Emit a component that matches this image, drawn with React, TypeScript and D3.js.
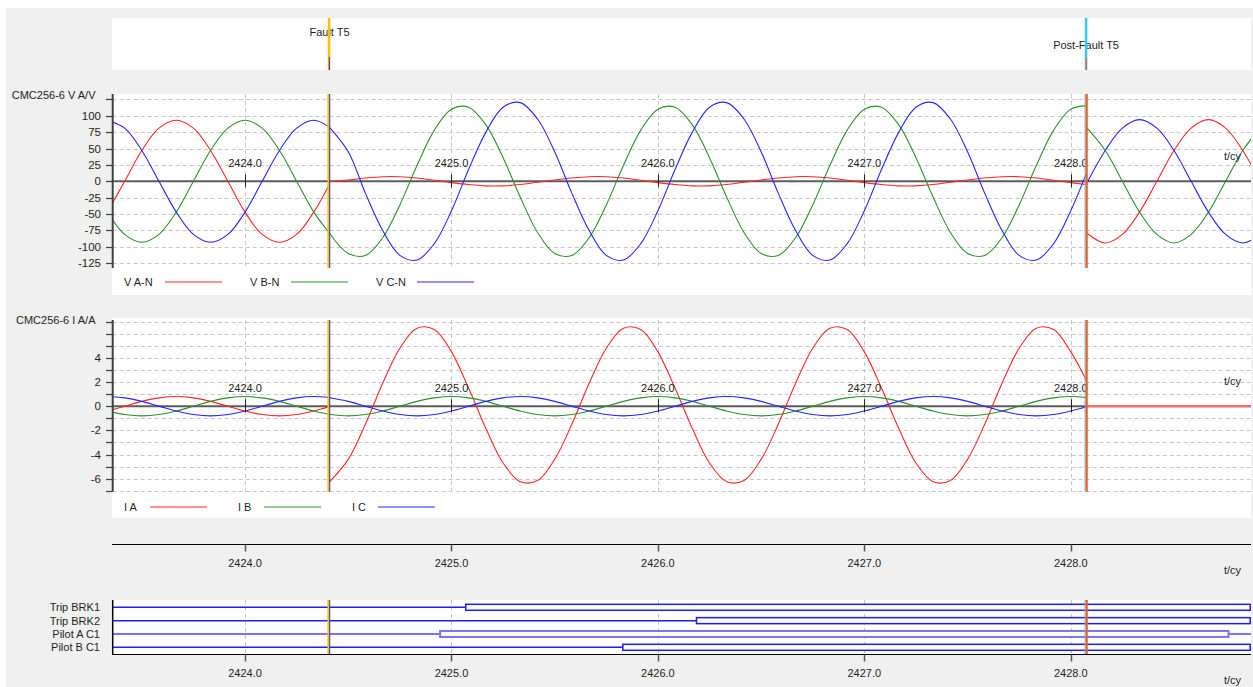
import * as d3 from 'd3';

const W = 1253;
const H = 687;
const FONT = '"Liberation Sans", Arial, sans-serif';
const INK = '#1e1e1e';

// time axis (cycles)
const CYCLE_TICKS = [2424, 2425, 2426, 2427, 2428];
const T_VIEW = [2423.359, 2428.873];
const FAULT_T = 2424.407;
const POST_T0 = 2428.074;

// y axis ticks
const V_GRID = [125, 100, 75, 50, 25, 0, -25, -50, -75, -100, -125];
const V_LABELS = [100, 75, 50, 25, 0, -25, -50, -75, -100, -125];
const I_GRID = [7, 6, 5, 4, 3, 2, 1, 0, -1, -2, -3, -4, -5, -6, -7];
const I_LABELS = [4, 2, 0, -2, -4, -6];

// ---- pre-fault samples ----
const PRE_T = [2423.333, 2423.417, 2423.5, 2423.583, 2423.667, 2423.75, 2423.833, 2423.917, 2424.0, 2424.083, 2424.167, 2424.25, 2424.333, 2424.407];
const PRE_VA = [-47, 0, 47, 81, 93, 81, 47, 0, -47, -81, -93, -81, -47, -6];
const PRE_VB = [-47, -81, -93, -81, -47, 0, 47, 81, 93, 81, 47, 0, -47, -78];
const PRE_VC = [93, 81, 47, 0, -47, -81, -93, -81, -47, 0, 47, 81, 93, 83];
const PRE_IA = [-0.4, 0, 0.4, 0.69, 0.8, 0.69, 0.4, 0, -0.4, -0.69, -0.8, -0.69, -0.4, -0.05];
const PRE_IB = [-0.4, -0.69, -0.8, -0.69, -0.4, 0, 0.4, 0.69, 0.8, 0.69, 0.4, 0, -0.4, -0.67];
const PRE_IC = [0.8, 0.69, 0.4, 0, -0.4, -0.69, -0.8, -0.69, -0.4, 0, 0.4, 0.69, 0.8, 0.72];

// ---- fault samples ----
const FLT_T = [
  2424.407, 2424.5, 2424.583, 2424.667, 2424.75, 2424.833, 2424.917,
  2425.0, 2425.083, 2425.167, 2425.25, 2425.333, 2425.417, 2425.5, 2425.583, 2425.667, 2425.75, 2425.833, 2425.917,
  2426.0, 2426.083, 2426.167, 2426.25, 2426.333, 2426.417, 2426.5, 2426.583, 2426.667, 2426.75, 2426.833, 2426.917,
  2427.0, 2427.083, 2427.167, 2427.25, 2427.333, 2427.417, 2427.5, 2427.583, 2427.667, 2427.75, 2427.833, 2427.917,
  2428.0, 2428.074,
];
const FLT_VA = [
  0, 2, 5, 7, 7, 5, 1.5,
  -2, -5, -7, -7, -5, -1.5, 2, 5, 7, 7, 5, 1.5,
  -2, -5, -7, -7, -5, -1.5, 2, 5, 7, 7, 5, 1.5,
  -2, -5, -7, -7, -5, -1.5, 2, 5, 7, 7, 5, 1.5,
  -2, -5,
];
const FLT_VB = [
  -78, -110, -113, -86, -36, 24, 78,
  110, 113, 86, 36, -24, -78, -110, -113, -86, -36, 24, 78,
  110, 113, 86, 36, -24, -78, -110, -113, -86, -36, 24, 78,
  110, 113, 86, 36, -24, -78, -110, -113, -86, -36, 24, 78,
  110, 115,
];
const FLT_VC = [
  83, 45, -18, -75, -113, -120, -95,
  -45, 18, 75, 113, 120, 95, 45, -18, -75, -113, -120, -95,
  -45, 18, 75, 113, 120, 95, 45, -18, -75, -113, -120, -95,
  -45, 18, 75, 113, 120, 95, 45, -18, -75, -113, -120, -95,
  -45, 11,
];
const FLT_IA = [
  -6.3, -4.4, -1.5, 1.9, 4.8, 6.45, 6.35,
  4.5, 1.5, -1.85, -4.7, -6.25, -6.15, -4.4, -1.5, 1.9, 4.8, 6.45, 6.35,
  4.5, 1.5, -1.85, -4.7, -6.25, -6.15, -4.4, -1.5, 1.9, 4.8, 6.45, 6.35,
  4.5, 1.5, -1.85, -4.7, -6.25, -6.15, -4.4, -1.5, 1.9, 4.8, 6.45, 6.35,
  4.5, 2.2,
];
const FLT_IB = [
  -0.67, -0.8, -0.69, -0.4, 0, 0.4, 0.69,
  0.8, 0.69, 0.4, 0, -0.4, -0.69, -0.8, -0.69, -0.4, 0, 0.4, 0.69,
  0.8, 0.69, 0.4, 0, -0.4, -0.69, -0.8, -0.69, -0.4, 0, 0.4, 0.69,
  0.8, 0.69, 0.4, 0, -0.4, -0.69, -0.8, -0.69, -0.4, 0, 0.4, 0.69,
  0.8, 0.71,
];
const FLT_IC = [
  0.72, 0.4, 0, -0.4, -0.69, -0.8, -0.69,
  -0.4, 0, 0.4, 0.69, 0.8, 0.69, 0.4, 0, -0.4, -0.69, -0.8, -0.69,
  -0.4, 0, 0.4, 0.69, 0.8, 0.69, 0.4, 0, -0.4, -0.69, -0.8, -0.69,
  -0.4, 0, 0.4, 0.69, 0.8, 0.69, 0.4, 0, -0.4, -0.69, -0.8, -0.69,
  -0.4, -0.04,
];

// ---- post-fault samples ----
const POST_T = [2428.074, 2428.167, 2428.25, 2428.333, 2428.417, 2428.5, 2428.583, 2428.667, 2428.75, 2428.833, 2428.917];
const POST_VA = [-78, -94, -81, -47, 0, 47, 81, 94, 81, 47, 0];
const POST_VB = [83, 47, 0, -47, -81, -94, -81, -47, 0, 47, 81];
const POST_VC = [-5, 47, 81, 94, 81, 47, 0, -47, -81, -94, -81];
const POST_IA = [0, 0, 0, 0, 0, 0, 0, 0, 0, 0, 0];
const POST_IB = [0, 0, 0, 0, 0, 0, 0, 0, 0, 0, 0];
const POST_IC = [0, 0, 0, 0, 0, 0, 0, 0, 0, 0, 0];

const V_NAMES = ['V A-N', 'V B-N', 'V C-N'];
const I_NAMES = ['I A', 'I B', 'I C'];
const PHASE_COLORS = ['#ff2424', '#2a922a', '#2424ff'];

// digital channels
const DIG_NAMES = ['Trip BRK1', 'Trip BRK2', 'Pilot A C1', 'Pilot B C1'];
const DIG_ON = [2425.069, 2426.187, 2424.945, 2425.83];
const DIG_OFF = [null, null, 2428.764, null];

const x = d3.scaleLinear().domain(T_VIEW).range([112.7, 1251]);
const X0 = 112.7;
const X1 = 1251;

const crisp = (v: number) => Math.round(v) + 0.5;

function Cursors({ y1, y2 }: { y1: number; y2: number }) {
  const fx = x(FAULT_T);
  const px = x(POST_T0);
  return (
    <g>
      <line x1={fx - 0.5} x2={fx - 0.5} y1={y1} y2={y2} stroke="#ffbe00" strokeWidth={2.4} />
      <line x1={fx + 0.7} x2={fx + 0.7} y1={y1} y2={y2} stroke="#2433c8" strokeWidth={1} />
      <line x1={px - 1} x2={px - 1} y1={y1} y2={y2} stroke="#3cc8f0" strokeWidth={1} />
      <line x1={px + 0.6} x2={px + 0.6} y1={y1} y2={y2} stroke="#ff5a1e" strokeWidth={2.2} />
    </g>
  );
}

type Seg = { t: number[]; v: number[] };

function AnalogPanel(props: {
  id: string;
  y: d3.ScaleLinear<number, number>;
  grid: number[];
  labels: number[];
  title: string;
  titleY: number;
  channels: Seg[][];
  names: string[];
  legendX: number;
  legendStep: number;
  legendGap: number;
  legendY: number;
  boxTop: number;
  boxBottom: number;
  children?: any;
}) {
  const { id, y, grid, labels, title, titleY, channels, names, legendX, legendStep, legendGap, legendY, boxTop, boxBottom } = props;
  const [yb, yt] = y.range();
  const y0 = y(0);
  const line = d3
    .line<[number, number]>()
    .x((d) => x(d[0]))
    .y((d) => y(d[1]))
    .curve(d3.curveCatmullRom.alpha(0.5));

  return (
    <g>
      <rect x={112} y={boxTop} width={X1 - 112} height={boxBottom - boxTop} fill="#fff" />
      <clipPath id={id}>
        <rect x={X0} y={yt} width={X1 - X0} height={yb - yt} />
      </clipPath>

      {grid.map((v) => (
        <line key={v} x1={X0} x2={X1} y1={crisp(y(v))} y2={crisp(y(v))} stroke="#c6c6c6" strokeDasharray="4 3" />
      ))}
      {CYCLE_TICKS.map((t) => (
        <line key={t} x1={crisp(x(t))} x2={crisp(x(t))} y1={yt} y2={yb} stroke="#c6c6c6" strokeDasharray="4 3" />
      ))}

      <line x1={X0} x2={X1} y1={y0} y2={y0} stroke="#5c5c5c" strokeWidth={2} />

      <g clipPath={`url(#${id})`}>
        {channels.map((segs, ci) =>
          segs.map((s, si) => (
            <path
              key={`${ci}-${si}`}
              d={line(s.t.map((t, i) => [t, s.v[i]] as [number, number])) || ''}
              fill="none"
              stroke={PHASE_COLORS[ci]}
              strokeWidth={1.1}
            />
          ))
        )}
        {props.children}
      </g>

      {CYCLE_TICKS.map((t) => (
        <g key={t}>
          <line x1={crisp(x(t))} x2={crisp(x(t))} y1={y0 - 7} y2={y0 + 6} stroke="#222" strokeWidth={1} />
          <text x={x(t)} y={y0 - 14} textAnchor="middle" fontSize={11} fill={INK}>
            {t.toFixed(1)}
          </text>
        </g>
      ))}
      <text x={1224} y={y0 - 21} fontSize={11} fill={INK}>t/cy</text>

      {/* y axis */}
      <line x1={X0} x2={X0} y1={yt} y2={yb} stroke="#404040" strokeWidth={2} />
      {grid.map((v) => (
        <line key={v} x1={106} x2={X0} y1={crisp(y(v))} y2={crisp(y(v))} stroke="#404040" strokeWidth={1.2} />
      ))}
      {labels.map((v) => (
        <text key={v} x={101} y={y(v) + 4} textAnchor="end" fontSize={11.5} fill={INK}>
          {v}
        </text>
      ))}
      <text x={95.5} y={titleY} textAnchor="end" fontSize={11} fill={INK}>{title}</text>

      {/* legend */}
      {names.map((n, i) => {
        const lx = legendX + i * legendStep;
        return (
          <g key={n}>
            <text x={lx} y={legendY + 4} fontSize={11} fill={INK}>{n}</text>
            <line x1={lx + legendGap} x2={lx + legendGap + 57} y1={legendY} y2={legendY} stroke={PHASE_COLORS[i]} strokeWidth={1.2} />
          </g>
        );
      })}

      <Cursors y1={yt} y2={yb} />
    </g>
  );
}

function TopMarkers() {
  const fx = x(FAULT_T);
  const px = x(POST_T0);
  return (
    <g>
      <rect x={112} y={18} width={X1 - 112} height={52} fill="#fff" />
      <text x={fx + 0.5} y={35.5} textAnchor="middle" fontSize={11} fill={INK}>Fault T5</text>
      <text x={px} y={49} textAnchor="middle" fontSize={11} fill={INK}>Post-Fault T5</text>
      <line x1={fx} x2={fx} y1={18} y2={70} stroke="#ffbe00" strokeWidth={2.6} />
      <line x1={fx + 0.3} x2={fx + 0.3} y1={57} y2={70} stroke="#2433c8" strokeWidth={1} />
      <line x1={px} x2={px} y1={18} y2={70} stroke="#3cc8f0" strokeWidth={2.6} />
      <line x1={px + 0.3} x2={px + 0.3} y1={58} y2={70} stroke="#ff5a1e" strokeWidth={1.2} />
    </g>
  );
}

function TimeAxis({ y, labelY, unitY }: { y: number; labelY: number; unitY: number }) {
  return (
    <g>
      <line x1={112} x2={X1} y1={y} y2={y} stroke="#000" strokeWidth={1.2} />
      {CYCLE_TICKS.map((t) => (
        <g key={t}>
          <line x1={crisp(x(t))} x2={crisp(x(t))} y1={y} y2={y + 7} stroke="#555" strokeWidth={1.5} />
          <text x={x(t)} y={labelY} textAnchor="middle" fontSize={11} fill={INK}>{t.toFixed(1)}</text>
        </g>
      ))}
      <text x={1224} y={unitY} fontSize={11} fill={INK}>t/cy</text>
    </g>
  );
}

function DigitalPanel() {
  const top = 600;
  const bottom = 654;
  const yD = d3.scalePoint<string>().domain(DIG_NAMES).range([607.3, 647.3]);
  return (
    <g>
      <rect x={112} y={top} width={X1 - 112} height={bottom - top} fill="#fff" />
      {CYCLE_TICKS.map((t) => (
        <line key={t} x1={crisp(x(t))} x2={crisp(x(t))} y1={top} y2={bottom} stroke="#c6c6c6" strokeDasharray="4 3" />
      ))}
      {DIG_NAMES.map((n, i) => {
        const cy = yD(n) as number;
        const on = x(DIG_ON[i]);
        const offT = DIG_OFF[i];
        const off = offT == null ? X1 - 0.8 : x(offT);
        const color = n === 'Pilot A C1' ? '#7474ff' : '#1c1cff';
        const sw = n === 'Pilot A C1' ? 2 : 1.5;
        return (
          <g key={n}>
            <text x={100} y={cy + 4} textAnchor="end" fontSize={11} fill={INK}>{n}</text>
            <line x1={X0} x2={on} y1={cy} y2={cy} stroke={color} strokeWidth={sw} />
            <rect x={on} y={cy - 3} width={off - on} height={6} fill="#fffde0" stroke={color} strokeWidth={sw} />
            {offT != null && <line x1={off} x2={X1} y1={cy} y2={cy} stroke={color} strokeWidth={sw} />}
          </g>
        );
      })}
      <line x1={X0} x2={X0} y1={top} y2={bottom} stroke="#000" strokeWidth={1.5} />
      <Cursors y1={top} y2={bottom} />
      <TimeAxis y={bottom + 0.5} labelY={677} unitY={684} />
    </g>
  );
}

export default function App() {
  const yV = d3.scaleLinear().domain([-132.2, 133.1]).range([268, 94]);
  const yI = d3.scaleLinear().domain([-7.08, 7.14]).range([491.7, 320]);

  const vChannels: Seg[][] = [
    [{ t: PRE_T, v: PRE_VA }, { t: FLT_T, v: FLT_VA }, { t: POST_T, v: POST_VA }],
    [{ t: PRE_T, v: PRE_VB }, { t: FLT_T, v: FLT_VB }, { t: POST_T, v: POST_VB }],
    [{ t: PRE_T, v: PRE_VC }, { t: FLT_T, v: FLT_VC }, { t: POST_T, v: POST_VC }],
  ];
  const iChannels: Seg[][] = [
    [{ t: PRE_T, v: PRE_IA }, { t: FLT_T, v: FLT_IA }, { t: POST_T, v: POST_IA }],
    [{ t: PRE_T, v: PRE_IB }, { t: FLT_T, v: FLT_IB }, { t: POST_T, v: POST_IB }],
    [{ t: PRE_T, v: PRE_IC }, { t: FLT_T, v: FLT_IC }, { t: POST_T, v: POST_IC }],
  ];

  // after the breaker opens only the IA zero trace is visible, on top of the zero line
  const iaPost = d3
    .line<number>()
    .x((_, i) => x(POST_T[i]))
    .y((v) => yI(v));

  return (
    <svg
      width={W}
      height={H}
      style={{ position: 'absolute', left: 0, top: 0, display: 'block' }}
      fontFamily={FONT}
    >
      <rect width={W} height={H} fill="#fff" />
      <rect x={6} y={8} width={W - 6} height={H - 8} fill="#f0f0f0" />

      <TopMarkers />

      <AnalogPanel
        id="clipV"
        y={yV}
        grid={V_GRID}
        labels={V_LABELS}
        title="CMC256-6 V A/V"
        titleY={99}
        channels={vChannels}
        names={V_NAMES}
        legendX={124}
        legendStep={126}
        legendGap={41}
        legendY={282}
        boxTop={94}
        boxBottom={295}
      />

      <AnalogPanel
        id="clipI"
        y={yI}
        grid={I_GRID}
        labels={I_LABELS}
        title="CMC256-6 I A/A"
        titleY={324}
        channels={iChannels}
        names={I_NAMES}
        legendX={124}
        legendStep={114}
        legendGap={26}
        legendY={507}
        boxTop={318}
        boxBottom={518}
      >
        <path d={iaPost(POST_IA) || ''} fill="none" stroke="#ff6a6a" strokeWidth={2.2} />
      </AnalogPanel>

      <TimeAxis y={544.5} labelY={567} unitY={574} />

      <DigitalPanel />
    </svg>
  );
}
